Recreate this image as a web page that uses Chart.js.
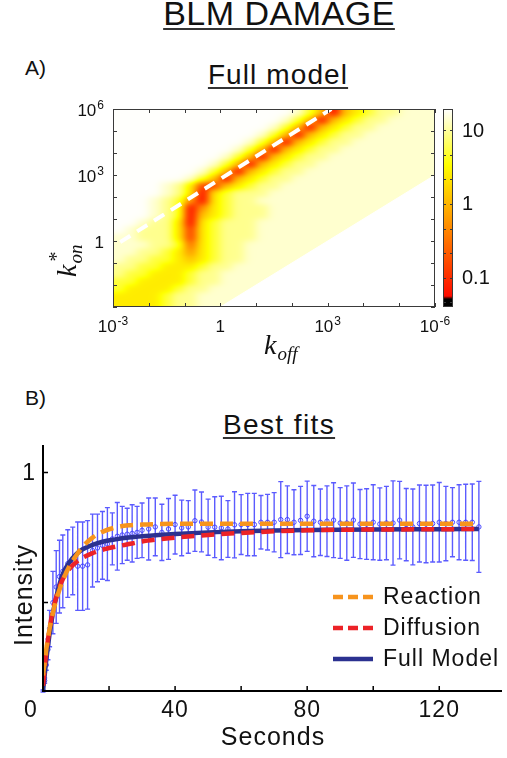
<!DOCTYPE html>
<html lang="en">
<head>
<meta charset="utf-8">
<title>BLM damage</title>
<script src="https://cdn.jsdelivr.net/npm/chart.js@4.4.1/dist/chart.umd.min.js"></script>
<style>
  html, body { margin: 0; padding: 0; background: #fff; }
  body { position: relative; width: 507px; height: 758px; overflow: hidden;
         font-family: "Liberation Sans", Arial, Helvetica, sans-serif; color: #111; }
  .lbl { position: absolute; white-space: nowrap; line-height: 1; }
  .ul { text-decoration: underline; text-decoration-thickness: 2px;
        text-underline-offset: 3px; text-decoration-color: #333; }
  .mid { transform: translateX(-50%); }
  canvas { position: absolute; left: 0; }
  #heat { top: 95px; }
  #fits { top: 440px; }
</style>
</head>
<body>
<div class="lbl ul mid" style="left:279px; top:-4px; font-size:34px; letter-spacing:0.5px;">BLM DAMAGE</div>
<div class="lbl" style="left:25px; top:57px; font-size:21px;">A)</div>
<div class="lbl ul mid" style="left:278px; top:61px; font-size:28px; letter-spacing:1.1px;">Full model</div>
<div class="lbl" style="left:25px; top:387px; font-size:21px;">B)</div>
<div class="lbl ul mid" style="left:279px; top:411px; font-size:28px; letter-spacing:1.4px;">Best fits</div>

<canvas id="heat" width="507" height="280"></canvas>
<canvas id="fits" width="507" height="318"></canvas>

<script>
const SANS = '"Liberation Sans", Arial, Helvetica, sans-serif';
const SERIF = '"Liberation Serif", "Times New Roman", serif';

// ---- A) misfit over (k_off, k_on*) in decades ----
const koffRange = [-3, 6];
const konRange = [-3, 6];
// one char per 1/3 decade (grouped by 9), top row is k_on* = 10^6, '.' = no fit
const levelCodes = '0123456789';
const levelValues = [0.05, 0.12, 0.3, 0.6, 1.3, 2.5, 5, 9, 14, 19];
const misfitRows = [
  '999999999 999999864 045677888',
  '999999999 999998640 456778888',
  '999999999 999986404 567788888',
  '999999999 999864045 677888888',
  '999999999 998640456 778888888',
  '999999999 986404567 788888888',
  '999999999 864045677 888888888',
  '999999998 640456778 888888888',
  '999999986 404567788 888888888',
  '999999864 045677888 888888888',
  '999987511 456778888 888888888',
  '999987505 677788888 88888888.',
  '999876305 677888888 8888888..',
  '999876035 677788888 888888...',
  '999876045 677788888 88888....',
  '998775056 777888888 8888.....',
  '987775156 777888888 888......',
  '887775156 777888888 88.......',
  '888776256 778888888 8........',
  '887765356 778888888 .........',
  '877665456 77888888. .........',
  '776655567 7888888.. .........',
  '766555677 888888... .........',
  '665555677 88888.... .........',
  '655556778 8888..... .........',
  '555567788 888...... .........',
  '555567788 88....... .........'
];
const noFitKoff = [0, 6];           // no fit below k_on* = k_off / 10^3
const noFitKon = [-3, 3];
const ratioKoff = [-2.8, 3.1];      // dashed k_on*/k_off line
const ratioKon = [-0.05, 6.0];
const koffTicks = [-3, -2, -1, 0, 1, 2, 3, 4, 5, 6];
const konTicks = [-3, -2, -1, 0, 1, 2, 3, 4, 5, 6];
const koffLabels = [[-3, '10', '-3'], [0, '1', ''], [3, '10', '3'], [6, '10', '-6']];
const konLabels = [[0, '1', ''], [3, '10', '3'], [6, '10', '6']];
const cbarRange = [0.04, 19.4];
const cbarLabels = [0.1, 1, 10];

// ---- B) recovery curve and fits ----
const dataTime = [0, 0.5, 1, 1.5, 2, 3, 4, 5, 6, 7.5, 9, 10.5, 12, 13.5, 15, 16.5, 18, 19.5, 21, 22.5, 24, 25.5, 27, 28.5,
  30, 32, 34, 36, 38, 40, 42, 44, 46, 48, 50, 52, 54, 56, 58, 60, 62, 64, 66, 68, 70, 72, 74, 76, 78,
  80, 82, 84, 86, 88, 90, 92, 94, 96, 98, 100, 102, 104, 106, 108, 110, 112, 114, 116, 118, 120, 122, 124, 126, 128, 130, 132];
const dataMean = [0.16, 0.2, 0.26, 0.32, 0.40, 0.50, 0.56, 0.60, 0.62, 0.65, 0.66, 0.64, 0.64, 0.645, 0.70, 0.71, 0.72, 0.725, 0.745, 0.755, 0.76, 0.763, 0.766, 0.77,
  0.778, 0.783, 0.791, 0.770, 0.783, 0.800, 0.787, 0.791, 0.815, 0.810, 0.790, 0.790, 0.787, 0.783, 0.799, 0.800, 0.800, 0.800, 0.809, 0.809, 0.809, 0.819, 0.819, 0.809, 0.816,
  0.832, 0.813, 0.809, 0.813, 0.817, 0.806, 0.806, 0.817, 0.802, 0.802, 0.809, 0.802, 0.806, 0.806, 0.817, 0.800, 0.791, 0.804, 0.802, 0.804, 0.809, 0.804, 0.809, 0.809, 0.809, 0.809, 0.791];
const dataErr = [0.004, 0.01, 0.02, 0.04, 0.07, 0.12, 0.14, 0.14, 0.14, 0.13, 0.13, 0.17, 0.17, 0.17, 0.14, 0.13, 0.13, 0.14, 0.10, 0.13, 0.11, 0.10, 0.11, 0.10,
  0.105, 0.119, 0.111, 0.108, 0.117, 0.113, 0.107, 0.101, 0.118, 0.115, 0.108, 0.117, 0.122, 0.109, 0.127, 0.115, 0.120, 0.120, 0.103, 0.107, 0.114, 0.146, 0.130, 0.125, 0.131,
  0.135, 0.137, 0.128, 0.136, 0.144, 0.136, 0.143, 0.143, 0.133, 0.136, 0.144, 0.139, 0.141, 0.162, 0.149, 0.139, 0.146, 0.148, 0.149, 0.148, 0.153, 0.143, 0.133, 0.144, 0.146, 0.147, 0.175];

const fitTime = [0, 0.5, 1, 2, 3, 4, 5, 6, 8, 10, 12, 15, 18, 22, 26, 30, 35, 40, 50, 60, 70, 80, 100, 120, 132];
const reaction = [0.22, 0.27, 0.32, 0.40, 0.46, 0.51, 0.55, 0.585, 0.64, 0.68, 0.715, 0.75, 0.772, 0.789, 0.797, 0.80, 0.802, 0.803, 0.803, 0.803, 0.803, 0.803, 0.803, 0.803, 0.803];
const diffusion = [0.18, 0.25, 0.31, 0.40, 0.47, 0.52, 0.56, 0.59, 0.63, 0.655, 0.672, 0.69, 0.703, 0.715, 0.725, 0.735, 0.743, 0.75, 0.76, 0.768, 0.774, 0.778, 0.781, 0.782, 0.783];
const fullModel = [0.16, 0.22, 0.28, 0.38, 0.46, 0.52, 0.57, 0.61, 0.655, 0.685, 0.705, 0.722, 0.734, 0.743, 0.75, 0.755, 0.76, 0.764, 0.77, 0.774, 0.777, 0.779, 0.781, 0.782, 0.783];

const timeRange = [0, 139];
const intensityRange = [0.16, 1.106];
const timeTicks = [0, 20, 40, 60, 80, 100, 120];
const timeLabels = [0, 40, 80, 120];
const intensityTicks = [0.5, 1];
const intensityLabels = [1];

function pts(xs, ys){ return xs.map((x, i) => ({ x, y: ys[i] })); }

// hot-like colour ramp, f in 0..1
const hotStops = [[0, 0, 0, 0], [0.04, 0, 0, 0], [0.055, 255, 12, 0], [0.72, 255, 255, 0], [1, 255, 255, 255]];
function hot(f){
  f = Math.max(0, Math.min(1, f));
  for (let k = 1; k < hotStops.length; k++) {
    const a = hotStops[k - 1], b = hotStops[k];
    if (f <= b[0]) {
      const t = (f - a[0]) / (b[0] - a[0] || 1);
      return [0, 1, 2].map(c => Math.round(a[c + 1] + (b[c + 1] - a[c + 1]) * t));
    }
  }
  return [255, 255, 255];
}
const cbLo = Math.log10(cbarRange[0]), cbHi = Math.log10(cbarRange[1]);
function colorForLog(lv){ return hot((lv - cbLo) / (cbHi - cbLo)); }

// shaded surface: each plot pixel takes a gaussian-weighted mean (in log units)
// of the nearby grid cells, then goes through the colour ramp
let heatCache = null;
function renderHeat(chart){
  const { chartArea: a, scales: { x, y } } = chart;
  const rows = misfitRows.map(r => r.replace(/ /g, ''));
  const nr = rows.length, nc = rows[0].length;
  const grid = rows.map(r => [...r].map(ch => {
    const k = levelCodes.indexOf(ch);
    return k < 0 ? NaN : Math.log10(levelValues[k]);
  }));
  const x0 = Math.round(a.left), y0 = Math.round(a.top);
  const w = Math.round(a.right) - x0, h = Math.round(a.bottom) - y0;
  const c = document.createElement('canvas');
  c.width = w; c.height = h;
  const g = c.getContext('2d');
  const img = g.createImageData(w, h);
  const perX = nc / (koffRange[1] - koffRange[0]), perY = nr / (konRange[1] - konRange[0]);
  const s2 = 2 * 0.5 * 0.5;
  for (let py = 0; py < h; py++) {
    const gj = (konRange[1] - y.getValueForPixel(y0 + py + 0.5)) * perY - 0.5;
    for (let px = 0; px < w; px++) {
      const gi = (x.getValueForPixel(x0 + px + 0.5) - koffRange[0]) * perX - 0.5;
      let st = 0, sw = 0, sv = 0;
      for (let j = Math.floor(gj) - 1; j <= Math.floor(gj) + 2; j++) {
        const jj = Math.min(nr - 1, Math.max(0, j));
        for (let i = Math.floor(gi) - 1; i <= Math.floor(gi) + 2; i++) {
          const ii = Math.min(nc - 1, Math.max(0, i));
          const wt = Math.exp(-((i - gi) ** 2 + (j - gj) ** 2) / s2);
          st += wt;
          const lv = grid[jj][ii];
          if (!isNaN(lv)) { sw += wt; sv += wt * lv; }
        }
      }
      if (sw < 0.3 * st) continue;
      const rgb = colorForLog(sv / sw);
      const p = (py * w + px) * 4;
      img.data[p] = rgb[0]; img.data[p + 1] = rgb[1]; img.data[p + 2] = rgb[2]; img.data[p + 3] = 255;
    }
  }
  g.putImageData(img, 0, 0);
  return { c, x0, y0 };
}

function powLabel(ctx, base, exp, x, y, align){
  ctx.font = '17px ' + SANS;
  const wb = ctx.measureText(base).width;
  ctx.font = '12px ' + SANS;
  const we = exp ? ctx.measureText(exp).width + 1 : 0;
  const w = wb + we;
  const left = align === 'right' ? x - w : x - w / 2;
  ctx.textAlign = 'left'; ctx.textBaseline = 'alphabetic';
  ctx.font = '17px ' + SANS;
  ctx.fillText(base, left, y);
  if (exp) { ctx.font = '12px ' + SANS; ctx.fillText(exp, left + wb + 1, y - 7); }
}

const heatLayer = {
  id: 'heatLayer',
  beforeDatasetsDraw(chart){
    if (!heatCache) heatCache = renderHeat(chart);
    chart.ctx.drawImage(heatCache.c, heatCache.x0, heatCache.y0);
  },
  afterDraw(chart){
    const { ctx, chartArea: a, scales: { x, y, cb } } = chart;
    ctx.save();
    // frame and inward ticks
    ctx.strokeStyle = '#3a3a3a'; ctx.lineWidth = 1;
    ctx.strokeRect(a.left + 0.5, a.top + 0.5, a.right - a.left - 1, a.bottom - a.top - 1);
    ctx.beginPath();
    koffTicks.forEach(u => {
      const px = Math.round(x.getPixelForValue(u)) + 0.5;
      ctx.moveTo(px, a.bottom); ctx.lineTo(px, a.bottom - 4);
      ctx.moveTo(px, a.top); ctx.lineTo(px, a.top + 4);
    });
    konTicks.forEach(v => {
      const py = Math.round(y.getPixelForValue(v)) + 0.5;
      ctx.moveTo(a.left, py); ctx.lineTo(a.left + 4, py);
      ctx.moveTo(a.right, py); ctx.lineTo(a.right - 4, py);
    });
    ctx.stroke();

    ctx.fillStyle = '#111';
    koffLabels.forEach(([u, base, exp]) => powLabel(ctx, base, exp, x.getPixelForValue(u), a.bottom + 25, 'center'));
    konLabels.forEach(([v, base, exp]) => powLabel(ctx, base, exp, a.left - 9, y.getPixelForValue(v) + 7, 'right'));

    // colour bar
    const bx = a.right + 8, bw = 10;
    for (let py = Math.floor(a.top); py < a.bottom; py++) {
      const rgb = colorForLog(cb.getValueForPixel(py + 0.5));
      ctx.fillStyle = `rgb(${rgb[0]},${rgb[1]},${rgb[2]})`;
      ctx.fillRect(bx, py, bw, 1);
    }
    ctx.strokeStyle = '#3a3a3a';
    ctx.strokeRect(bx + 0.5, a.top + 0.5, bw - 1, a.bottom - a.top - 1);
    ctx.beginPath();
    for (let k = -4; k <= 3; k++) {
      const lv = k / 3;
      if (lv <= cbLo || lv >= cbHi) continue;
      const py = Math.round(cb.getPixelForValue(lv)) + 0.5;
      ctx.moveTo(bx + bw, py); ctx.lineTo(bx + bw - 3, py);
      ctx.moveTo(bx, py); ctx.lineTo(bx + 3, py);
    }
    ctx.stroke();
    ctx.fillStyle = '#111';
    ctx.font = '20px ' + SANS; ctx.textAlign = 'left'; ctx.textBaseline = 'middle';
    cbarLabels.forEach(v => ctx.fillText(String(v), bx + bw + 9, cb.getPixelForValue(Math.log10(v)) + 1));

    // axis titles
    ctx.textBaseline = 'alphabetic';
    ctx.font = 'italic 28px ' + SERIF;
    const kx = 264, ky = 259;
    ctx.fillText('k', kx, ky);
    const kw = ctx.measureText('k').width;
    ctx.font = 'italic 19px ' + SERIF;
    ctx.fillText('off', kx + kw + 1, ky + 6);

    ctx.translate(76, 182);
    ctx.rotate(-Math.PI / 2);
    ctx.font = 'italic 28px ' + SERIF;
    ctx.fillText('k', 0, 0);
    const kw2 = ctx.measureText('k').width;
    ctx.font = 'italic 19px ' + SERIF;
    ctx.fillText('on', kw2 + 1, 6);
    ctx.font = '20px ' + SERIF;
    ctx.fillText('*', kw2 + 3, -13);
    ctx.restore();
  }
};

new Chart(document.getElementById('heat'), {
  type: 'scatter',
  data: {
    datasets: [
      { label: 'ratio', data: pts(ratioKoff, ratioKon), showLine: true, borderColor: '#ffffff',
        borderWidth: 4, borderDash: [12, 8], pointRadius: 0, order: 0 },
      { label: 'no fit', data: pts(noFitKoff, noFitKon), showLine: true, fill: 'start',
        backgroundColor: '#ffffff', borderColor: '#ffffff', borderWidth: 1, pointRadius: 0, order: 1 }
    ]
  },
  options: {
    responsive: false, animation: false, events: [],
    layout: { padding: { left: 113, right: 72, top: 14, bottom: 68 } },
    scales: {
      x: { type: 'linear', min: koffRange[0], max: koffRange[1], display: false },
      y: { type: 'linear', min: konRange[0], max: konRange[1], display: false },
      cb: { type: 'linear', axis: 'y', min: cbLo, max: cbHi, display: false }
    },
    plugins: { legend: { display: false }, tooltip: { enabled: false } }
  },
  plugins: [heatLayer]
});

// ---- B) ----
const fitStyle = [
  { label: 'Reaction', values: reaction, color: '#f7941d', dash: [13, 7] },
  { label: 'Diffusion', values: diffusion, color: '#ec2227', dash: [13, 7] },
  { label: 'Full Model', values: fullModel, color: '#2b3190', dash: [] }
];

function drawErrorBars(chart){
  const { ctx, scales: { x, y } } = chart;
  ctx.save();
  ctx.strokeStyle = 'rgba(50,50,255,0.8)';
  ctx.lineWidth = 1.4;
  ctx.beginPath();
  dataTime.forEach((t, i) => {
    const px = x.getPixelForValue(t);
    const top = y.getPixelForValue(dataMean[i] + dataErr[i]);
    const bot = y.getPixelForValue(dataMean[i] - dataErr[i]);
    ctx.moveTo(px, top); ctx.lineTo(px, bot);
    ctx.moveTo(px - 2.5, top); ctx.lineTo(px + 2.5, top);
    ctx.moveTo(px - 2.5, bot); ctx.lineTo(px + 2.5, bot);
  });
  ctx.stroke();
  ctx.restore();
}

const fitAxes = {
  id: 'fitAxes',
  beforeDatasetsDraw(chart){ drawErrorBars(chart); },
  afterDraw(chart){
    const { ctx, chartArea: a, scales: { x, y } } = chart;
    ctx.save();
    ctx.strokeStyle = '#000'; ctx.lineWidth = 2;
    ctx.beginPath();
    ctx.moveTo(a.left, a.top); ctx.lineTo(a.left, a.bottom); ctx.lineTo(a.right, a.bottom);
    ctx.stroke();
    ctx.lineWidth = 1.5;
    ctx.beginPath();
    timeTicks.forEach(t => { const px = x.getPixelForValue(t); ctx.moveTo(px, a.bottom); ctx.lineTo(px, a.bottom - 5); });
    intensityTicks.forEach(v => { const py = y.getPixelForValue(v); ctx.moveTo(a.left, py); ctx.lineTo(a.left + 5, py); });
    ctx.stroke();

    ctx.fillStyle = '#111';
    if ('letterSpacing' in ctx) ctx.letterSpacing = '1px';
    ctx.font = '23px ' + SANS;
    ctx.textAlign = 'center'; ctx.textBaseline = 'alphabetic';
    timeLabels.forEach(t => ctx.fillText(String(t), x.getPixelForValue(t) + (t === 0 ? -12 : 0), a.bottom + 26));
    ctx.textAlign = 'right'; ctx.textBaseline = 'middle';
    intensityLabels.forEach(v => ctx.fillText(String(v), a.left - 7, y.getPixelForValue(v) + 1));

    ctx.font = '25px ' + SANS;
    ctx.textAlign = 'center'; ctx.textBaseline = 'alphabetic';
    ctx.fillText('Seconds', 273, a.bottom + 54);
    ctx.save();
    ctx.translate(32, 155);
    ctx.rotate(-Math.PI / 2);
    ctx.fillText('Intensity', 0, 0);
    ctx.restore();

    // legend
    ctx.font = '23px ' + SANS;
    ctx.textAlign = 'left'; ctx.textBaseline = 'middle';
    fitStyle.forEach((f, i) => {
      const ly = 157 + i * 31;
      ctx.strokeStyle = f.color; ctx.lineWidth = 4.5;
      ctx.setLineDash(f.dash.length ? [10, 5] : []);
      ctx.beginPath(); ctx.moveTo(333, ly); ctx.lineTo(373, ly); ctx.stroke();
      ctx.setLineDash([]);
      ctx.fillStyle = '#111';
      ctx.fillText(f.label, 383, ly + 1);
    });
    ctx.restore();
  }
};

new Chart(document.getElementById('fits'), {
  type: 'scatter',
  data: {
    datasets: fitStyle.map((f, i) => ({
      label: f.label, data: pts(fitTime, f.values), showLine: true,
      borderColor: f.color, borderWidth: 4.5, borderDash: f.dash,
      cubicInterpolationMode: 'monotone', pointRadius: 0, order: i
    })).concat([{
      label: 'data', data: pts(dataTime, dataMean), showLine: false,
      pointRadius: 2.2, pointBorderWidth: 1, pointBorderColor: 'rgba(60,60,255,0.9)',
      pointBackgroundColor: 'rgba(255,255,255,0)', order: 3
    }])
  },
  options: {
    responsive: false, animation: false, events: [],
    layout: { padding: { left: 43, right: 0, top: 5, bottom: 67 } },
    scales: {
      x: { type: 'linear', min: timeRange[0], max: timeRange[1], display: false },
      y: { type: 'linear', min: intensityRange[0], max: intensityRange[1], display: false }
    },
    plugins: { legend: { display: false }, tooltip: { enabled: false } }
  },
  plugins: [fitAxes]
});
</script>
</body>
</html>
